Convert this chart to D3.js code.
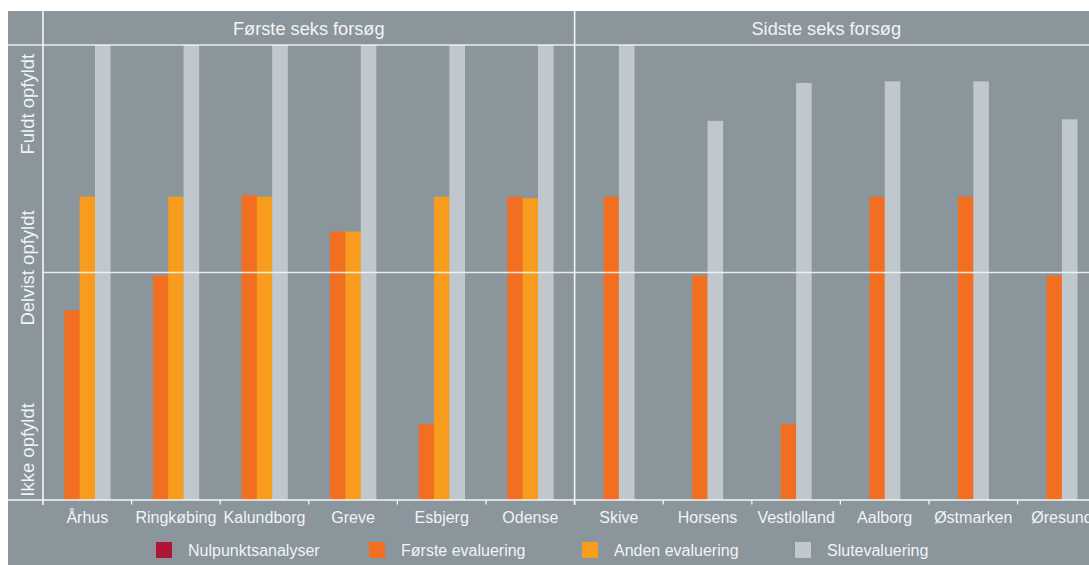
<!DOCTYPE html>
<html>
<head>
<meta charset="utf-8">
<script src="https://cdn.jsdelivr.net/npm/d3@7"></script>
<style>
  html, body { margin: 0; padding: 0; background: #fff; }
  svg { display: block; font-family: "Liberation Sans", Arial, Helvetica, sans-serif; }
</style>
</head>
<body>
<svg id="chart" width="1089" height="565"></svg>
<script>
// data (0 = bottom, 3 = top of the grid)
const categories = ["Århus", "Ringkøbing", "Kalundborg", "Greve", "Esbjerg", "Odense",
  "Skive", "Horsens", "Vestlolland", "Aalborg", "Østmarken", "Øresund"];
const facetNames = ["Første seks forsøg", "Sidste seks forsøg"];
const facetSize = 6;
const seriesNames = ["Nulpunktsanalyser", "Første evaluering", "Anden evaluering", "Slutevaluering"];
const seriesColors = ["#b01338", "#f26f21", "#f79c1d", "#c1c8cd"];
const nulpunkt = [null, null, null, null, null, null, null, null, null, null, null, null];
const foersteEval = [1.25, 1.48, 2.01, 1.77, 0.5, 2.0, 2.0, 1.48, 0.5, 2.0, 2.0, 1.48];
const andenEval = [2.0, 2.0, 2.0, 1.77, 2.0, 1.99, null, null, null, null, null, null];
const slutEval = [3, 3, 3, 3, 3, 3, 3, 2.5, 2.75, 2.76, 2.76, 2.51];
const gridValues = [1.5, 3];
const levelLabels = ["Ikke opfyldt", "Delvist opfyldt", "Fuldt opfyldt"];
const levelLabelAt = [0.33, 1.53, 2.61];

const allSeries = [nulpunkt, foersteEval, andenEval, slutEval];

const W = 1089, H = 565;
const bg = "#8a959c", lineCol = "#f4f6f7", textCol = "#f2f4f5";
const plotLeft = 43, plotTop = 45, baseY = 500, stripTop = 11;

const svg = d3.select("#chart");
svg.append("rect").attr("x", 8).attr("y", stripTop).attr("width", W - 8).attr("height", H - stripTop).attr("fill", bg);

const x = d3.scaleBand().domain(categories).range([plotLeft, plotLeft + 88.6 * categories.length]).padding(0);
const y = d3.scaleLinear().domain([0, 3]).range([baseY, plotTop]);
const barW = x.bandwidth() * 0.173;

// bars: present series are centred in each category
const g = svg.append("g");
categories.forEach((c, i) => {
  const present = allSeries.map((s, k) => ({ k, v: s[i] })).filter(d => d.v != null);
  const x0 = x(c) + x.bandwidth() / 2 - present.length * barW / 2;
  g.selectAll(null).data(present).enter().append("rect")
    .attr("x", (d, j) => x0 + j * barW)
    .attr("y", d => y(d.v))
    .attr("width", barW + 0.3)
    .attr("height", d => baseY - y(d.v))
    .attr("fill", d => seriesColors[d.k]);
});

// grid lines
svg.selectAll(".grid").data(gridValues).enter().append("line")
  .attr("x1", d => d === 3 ? 8 : plotLeft).attr("x2", W)
  .attr("y1", d => y(d)).attr("y2", d => y(d))
  .attr("stroke", lineCol).attr("stroke-width", 1.6).attr("opacity", 0.9);

// baseline
svg.append("line").attr("x1", 8).attr("x2", W).attr("y1", baseY).attr("y2", baseY)
  .attr("stroke", lineCol).attr("stroke-width", 1.6);

// vertical frame lines: y axis and facet divider
const facetStarts = facetNames.map((f, i) => x(categories[i * facetSize]));
svg.selectAll(".vline").data(facetStarts).enter().append("line")
  .attr("x1", d => d).attr("x2", d => d)
  .attr("y1", stripTop).attr("y2", baseY + 5)
  .attr("stroke", lineCol).attr("stroke-width", 1.6);

// ticks between categories
svg.selectAll(".tick-b").data(categories.slice(1)).enter().append("line")
  .attr("x1", d => x(d)).attr("x2", d => x(d))
  .attr("y1", baseY).attr("y2", baseY + 4.5)
  .attr("stroke", lineCol).attr("stroke-width", 1.3);

// category labels
const xAxis = svg.append("g").attr("transform", `translate(0,${baseY})`)
  .call(d3.axisBottom(x).tickSize(0).tickPadding(11.5));
xAxis.select(".domain").remove();
xAxis.selectAll("text").attr("fill", textCol).attr("font-size", 16)
  .attr("font-family", "'Liberation Sans', Arial, sans-serif");

// facet headers
const headerCenters = [(facetStarts[0] + facetStarts[1]) / 2, (facetStarts[1] + W - 11) / 2];
svg.selectAll(".facet").data(facetNames).enter().append("text")
  .attr("x", (d, i) => headerCenters[i]).attr("y", 35)
  .attr("text-anchor", "middle").attr("font-size", 18.2).attr("fill", textCol)
  .text(d => d);

// level labels on the y side
svg.selectAll(".level").data(levelLabels).enter().append("text")
  .attr("transform", (d, i) => `translate(34,${y(levelLabelAt[i])}) rotate(-90)`)
  .attr("text-anchor", "middle").attr("font-size", 18.5).attr("fill", textCol)
  .text(d => d);

// legend
const legend = svg.selectAll(".legend").data(seriesNames).enter().append("g")
  .attr("transform", (d, i) => `translate(${156 + i * 213},542)`);
legend.append("rect").attr("width", 16).attr("height", 16).attr("fill", (d, i) => seriesColors[i]);
legend.append("text").attr("x", 32).attr("y", 14).attr("font-size", 16).attr("fill", textCol).text(d => d);
</script>
</body>
</html>
